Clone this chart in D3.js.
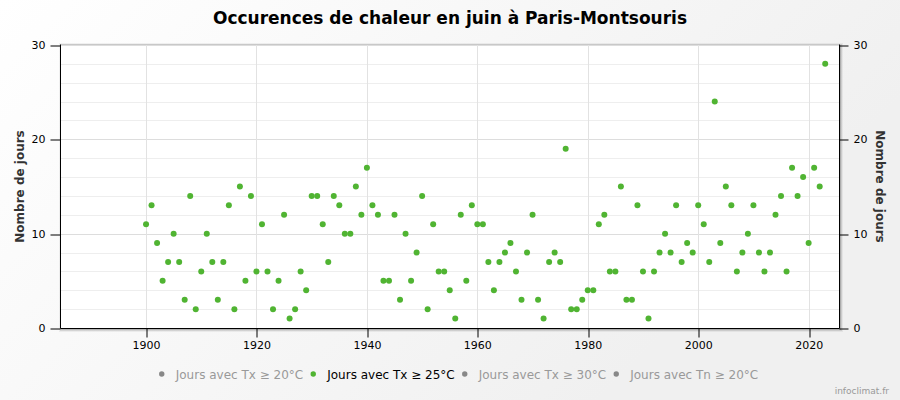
<!DOCTYPE html>
<html>
<head>
<meta charset="utf-8">
<script src="https://cdnjs.cloudflare.com/ajax/libs/d3/7.8.5/d3.min.js"></script>
<style>
  html, body { margin: 0; padding: 0; background: #fff; }
  svg { display: block; font-family: "DejaVu Sans", Verdana, sans-serif; }
</style>
</head>
<body>
<svg id="chart" width="900" height="400"></svg>
<script>
// ---------- data ----------
const titleText = "Occurences de chaleur en juin à Paris-Montsouris";
const yAxisTitle = "Nombre de jours";
const creditText = "infoclimat.fr";
const years = d3.range(1900, 2024);
const daysTx25 = [
  11, 13, 9, 5, 7, 10, 7, 3, 14, 2,      // 1900-1909
  6, 10, 7, 3, 7, 13, 2, 15, 5, 14,      // 1910-1919
  6, 11, 6, 2, 5, 12, 1, 2, 6, 4,        // 1920-1929
  14, 14, 11, 7, 14, 13, 10, 10, 15, 12, // 1930-1939
  17, 13, 12, 5, 5, 12, 3, 10, 5, 8,     // 1940-1949
  14, 2, 11, 6, 6, 4, 1, 12, 5, 13,      // 1950-1959
  11, 11, 7, 4, 7, 8, 9, 6, 3, 8,        // 1960-1969
  12, 3, 1, 7, 8, 7, 19, 2, 2, 3,        // 1970-1979
  4, 4, 11, 12, 6, 6, 15, 3, 3, 13,      // 1980-1989
  6, 1, 6, 8, 10, 8, 13, 7, 9, 8,        // 1990-1999
  13, 11, 7, 24, 9, 15, 13, 6, 8, 10,    // 2000-2009
  13, 8, 6, 8, 12, 14, 6, 17, 14, 16,    // 2010-2019
  9, 17, 15, 28                          // 2020-2023
];
const xTicks = [1900, 1920, 1940, 1960, 1980, 2000, 2020];
const yTicks = [0, 10, 20, 30];
const yMinorTicks = [2, 4, 6, 8, 12, 14, 16, 18, 22, 24, 26, 28];
const legendItems = ["Jours avec Tx ≥ 20°C", "Jours avec Tx ≥ 25°C", "Jours avec Tx ≥ 30°C", "Jours avec Tn ≥ 20°C"];
const activeLegend = 1;

// ---------- layout ----------
const W = 900, H = 400;
const plot = { left: 61, right: 839, top: 45, bottom: 328 };
const green = "#50B432";

const svg = d3.select("#chart");
const defs = svg.append("defs");
const grad = defs.append("linearGradient").attr("id", "bg")
  .attr("gradientUnits", "userSpaceOnUse")
  .attr("x1", 0).attr("y1", 0).attr("x2", 500).attr("y2", 500);
grad.append("stop").attr("offset", 0).attr("stop-color", "#ffffff");
grad.append("stop").attr("offset", 1).attr("stop-color", "#f0f0f0");
svg.append("rect").attr("width", W).attr("height", H).attr("fill", "url(#bg)");

const x = d3.scaleLinear().domain([1884.6, 2025.5]).range([plot.left, plot.right]);
const y = d3.scaleLinear().domain([0, 30]).range([plot.bottom, plot.top]);
const pw = plot.right - plot.left, ph = plot.bottom - plot.top;

// plot shadow
for (let i = 1; i <= 3; i++) {
  svg.append("rect")
    .attr("x", plot.left - 0.5).attr("y", plot.top - 0.5)
    .attr("width", pw + 1).attr("height", ph + 1)
    .attr("fill", "none").attr("stroke", "black")
    .attr("stroke-opacity", 0.05 * i).attr("stroke-width", 7 - 2 * i)
    .attr("transform", "translate(1,1)");
}
svg.append("rect")
  .attr("x", plot.left).attr("y", plot.top).attr("width", pw).attr("height", ph)
  .attr("fill", "#ffffff");

const crisp = v => Math.round(v) + 0.5;

// minor horizontal grid
svg.append("g").selectAll("line").data(yMinorTicks).join("line")
  .attr("x1", plot.left).attr("x2", plot.right)
  .attr("y1", d => crisp(y(d))).attr("y2", d => crisp(y(d)))
  .attr("stroke", "#eeeeee").attr("stroke-width", 1);
// major horizontal grid
svg.append("g").selectAll("line").data(yTicks).join("line")
  .attr("x1", plot.left).attr("x2", plot.right)
  .attr("y1", d => crisp(y(d))).attr("y2", d => crisp(y(d)))
  .attr("stroke", "#dddddd").attr("stroke-width", 1);
// vertical grid
svg.append("g").selectAll("line").data(xTicks).join("line")
  .attr("x1", d => crisp(x(d))).attr("x2", d => crisp(x(d)))
  .attr("y1", plot.top).attr("y2", plot.bottom)
  .attr("stroke", "#e2e2e2").attr("stroke-width", 1);

// plot border top
svg.append("line")
  .attr("x1", plot.left).attr("x2", plot.right)
  .attr("y1", plot.top - 0.5).attr("y2", plot.top - 0.5)
  .attr("stroke", "#c8c8c8");

// axes
const xAxis = d3.axisBottom(x).tickValues(xTicks).tickFormat(d3.format("d")).tickSize(9).tickPadding(4);
const gx = svg.append("g").attr("transform", `translate(0,${plot.bottom + 0.5})`).call(xAxis);
gx.select(".domain").attr("d", `M${plot.left - 0.5},0H${plot.right + 0.5}`).attr("stroke", "#000");
gx.selectAll(".tick line").attr("stroke", "#000").attr("transform", d => `translate(${crisp(x(d)) - x(d)},0)`);
gx.selectAll(".tick text").attr("font-size", 11).attr("fill", "#000")
  .attr("font-family", "DejaVu Sans, sans-serif");

const yAxisL = d3.axisLeft(y).tickValues(yTicks).tickSize(10).tickPadding(5);
const gyl = svg.append("g").attr("transform", `translate(${plot.left - 0.5},0)`).call(yAxisL);
gyl.select(".domain").attr("d", `M0,${plot.top - 0.5}V${plot.bottom + 0.5}`).attr("stroke", "#000");
gyl.selectAll(".tick line").attr("stroke", "#000").attr("transform", d => `translate(0,${crisp(y(d)) - y(d)})`);
gyl.selectAll(".tick text").attr("font-size", 11).attr("fill", "#000")
  .attr("font-family", "DejaVu Sans, sans-serif");

const yAxisR = d3.axisRight(y).tickValues(yTicks).tickSize(9).tickPadding(5);
const gyr = svg.append("g").attr("transform", `translate(${plot.right + 0.5},0)`).call(yAxisR);
gyr.select(".domain").attr("d", `M0,${plot.top - 0.5}V${plot.bottom + 0.5}`).attr("stroke", "#000");
gyr.selectAll(".tick line").attr("stroke", "#000").attr("transform", d => `translate(0,${crisp(y(d)) - y(d)})`);
gyr.selectAll(".tick text").attr("font-size", 11).attr("fill", "#000")
  .attr("font-family", "DejaVu Sans, sans-serif");

// axis titles
const midY = (plot.top + plot.bottom) / 2;
svg.append("text").text(yAxisTitle)
  .attr("transform", `translate(24,${midY}) rotate(-90)`)
  .attr("text-anchor", "middle").attr("font-size", 12).attr("font-weight", "bold").attr("fill", "#333");
svg.append("text").text(yAxisTitle)
  .attr("transform", `translate(876,${midY}) rotate(90)`)
  .attr("text-anchor", "middle").attr("font-size", 12).attr("font-weight", "bold").attr("fill", "#333");

// points
svg.append("g").selectAll("circle").data(years.map((yr, i) => ({ yr, v: daysTx25[i] }))).join("circle")
  .attr("cx", d => x(d.yr)).attr("cy", d => y(d.v)).attr("r", 3)
  .attr("fill", green);

// title
svg.append("text").text(titleText)
  .attr("x", W / 2).attr("y", 24).attr("text-anchor", "middle")
  .attr("font-size", 17).attr("font-weight", "bold").attr("fill", "#000");

// legend
const lg = svg.append("g");
const legendY = 374;
let cursor = 0;
const items = legendItems.map((label, i) => {
  const g = lg.append("g");
  const active = i === activeLegend;
  g.append("circle").attr("cx", 0).attr("cy", 0).attr("r", 2.7)
    .attr("fill", active ? green : "#888888");
  const t = g.append("text").text(label).attr("x", 14).attr("y", 4.5)
    .attr("font-size", 12).attr("fill", active ? "#000" : "#999999");
  const w = t.node().getComputedTextLength();
  const start = cursor;
  cursor += 14 + w + 10;
  return { g, start };
});
const totalW = cursor - 10 + 3;
const startX = 458.5 - totalW / 2 + 3;
items.forEach(it => it.g.attr("transform", `translate(${startX + it.start},${legendY})`));

// credits
svg.append("text").text(creditText)
  .attr("x", 889).attr("y", 394).attr("text-anchor", "end")
  .attr("font-size", 9).attr("fill", "#999999");
</script>
</body>
</html>
